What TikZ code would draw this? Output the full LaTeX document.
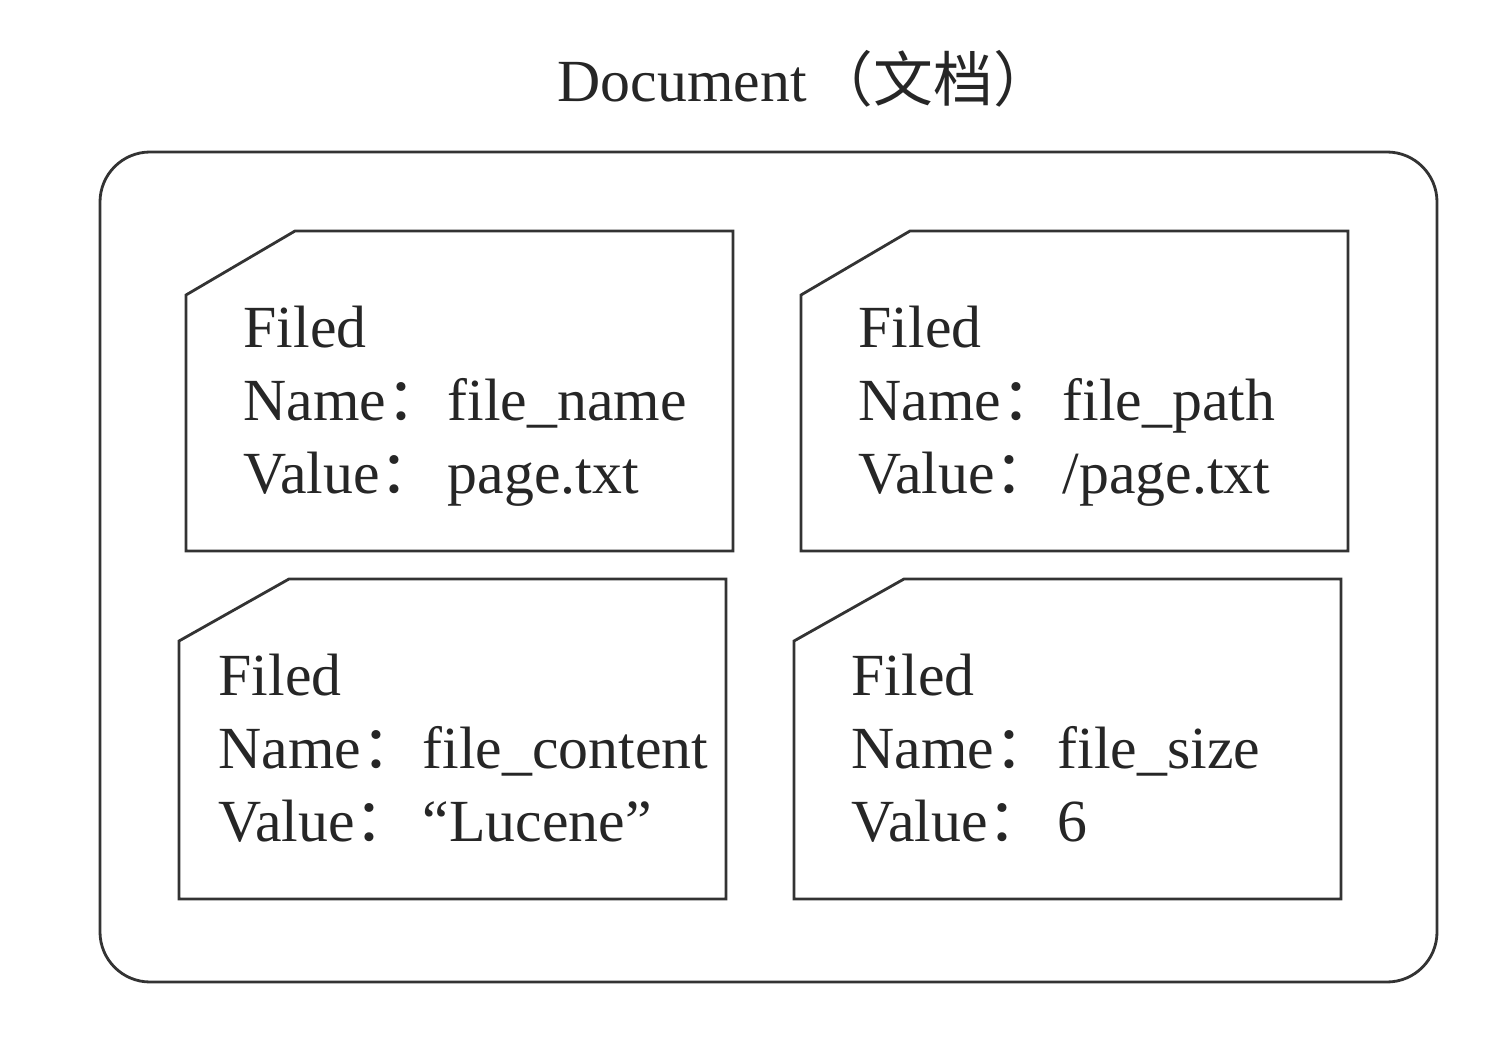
\documentclass[tikz,border=0pt]{standalone}
\usepackage{fontspec}
\setmainfont{Liberation Serif}
\newfontfamily\cjk{Noto Sans CJK SC}
\begin{document}
\begin{tikzpicture}[x=0.01cm,y=-0.01cm,
  txt/.style={anchor=base west,inner sep=0pt,font=\fontsize{17}{20}\selectfont,text=black!85},
  ttl/.style={anchor=base west,inner sep=0pt,font=\fontsize{17}{20}\selectfont,text=black!85},
  frame/.style={draw=black!80,line width=0.8pt},
  card/.style={draw=black!80,line width=0.8pt}]
\useasboundingbox (0,0) rectangle (1500,1040);
% title
\node[ttl] (title) at (557,102) {Document{\cjk \hspace{2pt}（文档）}};
% outer document frame
\draw[frame,rounded corners=0.5cm] (100,152) rectangle (1437,982);
% field cards
\draw[card] (186,551) -- (186,295) -- (295,231) -- (733,231) -- (733,551) -- cycle;
\draw[card] (801,551) -- (801,295) -- (910,231) -- (1348,231) -- (1348,551) -- cycle;
\draw[card] (179,899) -- (179,641) -- (289,579) -- (726,579) -- (726,899) -- cycle;
\draw[card] (794,899) -- (794,641) -- (904,579) -- (1341,579) -- (1341,899) -- cycle;
% card 1
\node[txt] (f1) at (243,348) {Filed};
\node[txt] (n1) at (243,421) {Name{\cjk ：}};
\node[txt] (nv1) at (447,421) {file\_name};
\node[txt] (v1) at (243,494) {Value{\cjk ：}};
\node[txt] (vv1) at (447,494) {page.txt};
% card 2
\node[txt] (f2) at (858,348) {Filed};
\node[txt] (n2) at (858,421) {Name{\cjk ：}};
\node[txt] (nv2) at (1062,421) {file\_path};
\node[txt] (v2) at (858,494) {Value{\cjk ：}};
\node[txt] (vv2) at (1062,494) {/page.txt};
% card 3
\node[txt] (f3) at (218,695) {Filed};
\node[txt] (n3) at (218,768) {Name{\cjk ：}};
\node[txt] (nv3) at (422,768) {file\_content};
\node[txt] (v3) at (218,841) {Value{\cjk ：}};
\node[txt] (vv3) at (422,841) {“Lucene”};
% card 4
\node[txt] (f4) at (851,695) {Filed};
\node[txt] (n4) at (851,768) {Name{\cjk ：}};
\node[txt] (nv4) at (1057,768) {file\_size};
\node[txt] (v4) at (851,841) {Value{\cjk ：}};
\node[txt] (vv4) at (1057,841) {6};
\end{tikzpicture}
\end{document}
